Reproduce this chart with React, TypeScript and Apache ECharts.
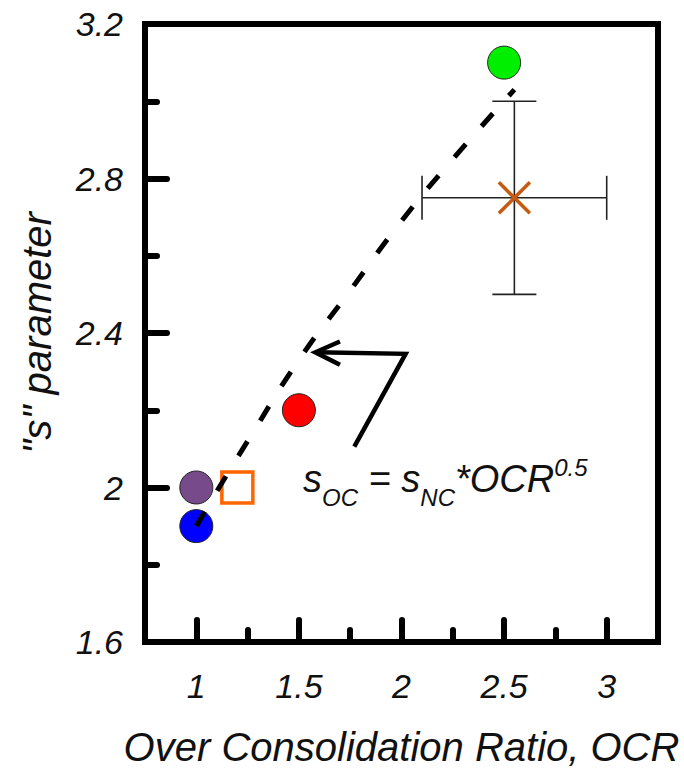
import React, { useEffect, useRef } from 'react';
import * as echarts from 'echarts';

// Axis ticks / labels
const xMajorTicks = [1, 1.5, 2, 2.5, 3];
const xMinorTicks = [1.25, 1.75, 2.25, 2.75];

// Data points [OCR, s]
const bluePoint = [[1, 1.9]];
const purplePoint = [[1, 2.0]];
const orangeSquare = [[1.2, 2.0]];
const redPoint = [[1.5, 2.2]];
const greenPoint = [[2.5, 3.1]];
// [x, y, xLow, xHigh, yLow, yHigh]
const crossWithErrors = [[2.55, 2.75, 2.1, 3.0, 2.5, 3.0]];

// Dashed trend curve
const curveX = [1, 1.1, 1.25, 1.5, 1.75, 2, 2.25, 2.55];
const curveY = [1.9, 1.99, 2.12, 2.33, 2.51, 2.69, 2.85, 3.03];

// Arrow annotation
const arrowShaft = [[1.77, 2.106], [2.02, 2.346], [1.585, 2.35]];
const arrowHead = [[1.7, 2.378], [1.58, 2.35], [1.7, 2.318]];

const FONT = '"Liberation Sans", Arial, sans-serif';

export default function App() {
  const ref = useRef<HTMLDivElement>(null);
  useEffect(() => {
    if (!ref.current) return;
    const chart = echarts.init(ref.current, undefined, { renderer: 'svg' });
    const curve = curveX.map((x, i) => [x, curveY[i]]);
    const circle = (data: number[][], color: string) => ({
      type: 'scatter',
      data,
      symbol: 'circle',
      symbolSize: 33,
      itemStyle: { color, borderColor: '#222', borderWidth: 1, opacity: 1 },
      z: 3,
    });
    chart.setOption({
      animation: false,
      backgroundColor: '#fff',
      grid: {
        left: 145,
        right: 26,
        top: 24,
        bottom: 130,
        show: true,
        borderColor: '#000',
        borderWidth: 6,
        outerBoundsMode: 'none',
      },
      xAxis: [
        {
          type: 'value',
          min: 0.75,
          max: 3.25,
          interval: 0.25,
          position: 'bottom',
          name: 'Over Consolidation Ratio, OCR',
          nameLocation: 'middle',
          nameGap: 85,
          nameTextStyle: { fontSize: 40, fontStyle: 'italic', fontFamily: FONT, color: '#111' },
          axisLine: { show: true, lineStyle: { color: '#000', width: 6 } },
          axisTick: {
            show: true,
            inside: true,
            length: 22,
            customValues: xMajorTicks,
            lineStyle: { color: '#000', width: 6, cap: 'round' },
          },
          axisLabel: {
            customValues: xMajorTicks,
            fontSize: 34,
            fontStyle: 'italic',
            fontFamily: FONT,
            color: '#111',
            margin: 27,
          },
          splitLine: { show: false },
        },
        {
          type: 'value',
          min: 0.75,
          max: 3.25,
          position: 'bottom',
          axisLine: { show: false },
          axisTick: {
            show: true,
            inside: true,
            length: 12,
            customValues: xMinorTicks,
            lineStyle: { color: '#000', width: 6, cap: 'round' },
          },
          axisLabel: { show: false },
          splitLine: { show: false },
        },
      ],
      yAxis: {
        type: 'value',
        min: 1.6,
        max: 3.2,
        interval: 0.4,
        name: '"s" parameter',
        nameLocation: 'middle',
        nameGap: 88,
        nameTextStyle: { fontSize: 40, fontStyle: 'italic', fontFamily: FONT, color: '#111' },
        axisLine: { show: true, lineStyle: { color: '#000', width: 6 } },
        axisTick: {
          show: true,
          inside: true,
          length: 22,
          lineStyle: { color: '#000', width: 6, cap: 'round' },
        },
        minorTick: {
          show: true,
          splitNumber: 2,
          length: 12,
          lineStyle: { color: '#000', width: 6, cap: 'round' },
        },
        axisLabel: {
          fontSize: 34,
          fontStyle: 'italic',
          fontFamily: FONT,
          color: '#111',
          margin: 22,
          showMinLabel: true,
          showMaxLabel: true,
        },
        splitLine: { show: false },
        minorSplitLine: { show: false },
      },
      series: [
        circle(bluePoint, '#0000FF'),
        circle(purplePoint, '#774B8A'),
        {
          type: 'scatter',
          data: orangeSquare,
          symbol: 'rect',
          symbolSize: 31,
          itemStyle: { color: '#fff', borderColor: '#FF6600', borderWidth: 3.5, opacity: 1 },
          z: 3,
        },
        circle(redPoint, '#FF0000'),
        circle(greenPoint, '#00EE00'),
        {
          type: 'custom',
          data: crossWithErrors,
          z: 4,
          renderItem: (params: any, api: any) => {
            const c = api.coord([api.value(0), api.value(1)]);
            const l = api.coord([api.value(2), api.value(1)]);
            const r = api.coord([api.value(3), api.value(1)]);
            const b = api.coord([api.value(0), api.value(4)]);
            const t = api.coord([api.value(0), api.value(5)]);
            const cap = 22;
            const m = 15.5;
            const es = { stroke: '#222', lineWidth: 1.6 };
            const xs = { stroke: '#C55A11', lineWidth: 3.5 };
            return {
              type: 'group',
              children: [
                { type: 'line', shape: { x1: l[0], y1: l[1], x2: r[0], y2: r[1] }, style: es },
                { type: 'line', shape: { x1: l[0], y1: l[1] - cap, x2: l[0], y2: l[1] + cap }, style: es },
                { type: 'line', shape: { x1: r[0], y1: r[1] - cap, x2: r[0], y2: r[1] + cap }, style: es },
                { type: 'line', shape: { x1: t[0], y1: t[1], x2: b[0], y2: b[1] }, style: es },
                { type: 'line', shape: { x1: t[0] - cap, y1: t[1], x2: t[0] + cap, y2: t[1] }, style: es },
                { type: 'line', shape: { x1: b[0] - cap, y1: b[1], x2: b[0] + cap, y2: b[1] }, style: es },
                { type: 'line', shape: { x1: c[0] - m, y1: c[1] - m, x2: c[0] + m, y2: c[1] + m }, style: xs },
                { type: 'line', shape: { x1: c[0] - m, y1: c[1] + m, x2: c[0] + m, y2: c[1] - m }, style: xs },
              ],
            };
          },
        },
        {
          type: 'line',
          data: curve,
          smooth: true,
          symbol: 'none',
          lineStyle: { color: '#000', width: 5, type: [17, 24] },
          z: 6,
        },
        {
          type: 'line',
          data: arrowShaft,
          symbol: 'none',
          lineStyle: { color: '#000', width: 4.5, join: 'miter' },
          z: 6,
        },
        {
          type: 'line',
          data: arrowHead,
          symbol: 'none',
          lineStyle: { color: '#000', width: 4.5, join: 'miter' },
          z: 6,
        },
      ],
      graphic: [
        {
          type: 'text',
          x: 303,
          y: 479,
          z: 10,
          style: {
            text: '{m|s}{b|OC}{m| = s}{b|NC}{m|*OCR}{p|0.5}',
            verticalAlign: 'middle',
            align: 'left',
            fill: '#111',
            rich: {
              m: { fontSize: 38, fontStyle: 'italic', fontFamily: FONT, lineHeight: 40, fill: '#111', color: '#111' },
              b: { fontSize: 24, fontStyle: 'italic', fontFamily: FONT, lineHeight: 24, padding: [36, 0, 0, 0], color: '#111' },
              p: { fontSize: 24, fontStyle: 'italic', fontFamily: FONT, lineHeight: 24, padding: [0, 0, 24, 0], color: '#111' },
            },
          },
        },
      ],
    });
    return () => chart.dispose();
  }, []);
  return (
    <div
      ref={ref}
      style={{ position: 'fixed', left: 0, top: 0, width: 684, height: 772 }}
    />
  );
}
